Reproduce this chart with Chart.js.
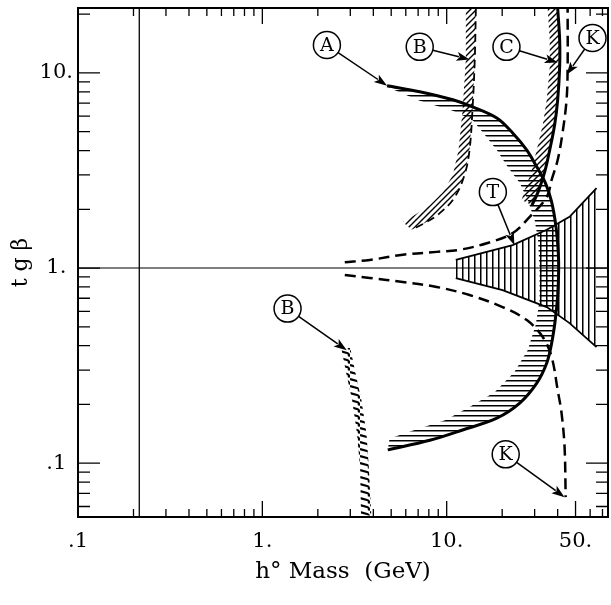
<!DOCTYPE html>
<html><head><meta charset="utf-8">
<script src="https://cdn.jsdelivr.net/npm/chart.js@4.4.1/dist/chart.umd.min.js"></script>
<style>html,body{margin:0;padding:0;background:#fff;}canvas{display:block;}</style>
</head><body>
<canvas id="c" width="611" height="605"></canvas>
<script>
// ---- axes ----
const xMin = 0.1, xMax = 75;
const yMin = 0.053, yMax = 21.5;
const xTickValues = [0.1, 1, 10, 50];
const xTickLabels = ['.1', '1.', '10.', '50.'];
const yTickValues = [0.1, 1, 10];
const yTickLabels = ['.1', '1.', '10.'];
const xMinorTicks = [0.2,0.3,0.4,0.5,0.6,0.7,0.8,0.9,2,3,4,5,6,7,8,9,20,30,40,60,70];
const yMinorTicks = [0.06,0.07,0.08,0.09,0.2,0.3,0.4,0.5,0.6,0.7,0.8,0.9,2,3,4,5,6,7,8,9,20];
const xTitle = 'h° Mass  (GeV)';
const yTitle = 't g β';

// ---- reference lines ----
const refTanBeta = 1;
const refMass = 0.215;

// ---- curve A (solid, hatched inside) ----
const curveA = [[4.75,8.6],[7.14,8.0],[10.8,7.28],[13.8,6.70],[18.7,5.87],[22.8,4.92],[27.2,4.02],[30.8,3.30],[34.3,2.73],[37.0,2.2],[39.2,1.62],[40.3,1.2],[40.5,0.98],[40.0,0.72],[38.8,0.54],[37.1,0.412],[34.9,0.326],[30.8,0.257],[24.9,0.203],[18.7,0.170],[12.2,0.148],[8.1,0.131],[4.79,0.117]];
const hatchEdgeA = [[4.9,8.37],[7.14,7.2],[10.8,6.4],[13.8,5.74],[15.8,4.92],[18.7,4.02],[21.4,3.30],[24.9,2.73],[27.5,2.23],[30.0,1.76],[31.3,1.39],[31.9,1.0],[31.9,0.686],[30.4,0.51],[27.5,0.379],[23.3,0.293],[18.2,0.231],[13.3,0.194],[9.8,0.166],[6.7,0.148],[4.9,0.134]];

// ---- curve B, upper (hatched band + dashed edge) ----
const curveBUpper = [[14.4,21.5],[14.2,11.7],[13.8,6.46],[13.3,4.02],[12.5,3.0],[11.0,2.29],[9.17,1.91],[7.6,1.70],[6.45,1.57]];
const hatchEdgeBUpper = [[12.7,21.5],[12.7,11.7],[12.2,6.46],[11.6,4.02],[10.8,3.0],[9.55,2.45],[8.09,2.10],[6.70,1.87],[5.78,1.72]];

// ---- curve B, lower (hatched band) ----
const bandBLowerLeft = [[2.68,0.389],[2.85,0.290],[3.07,0.210],[3.26,0.143],[3.39,0.0953],[3.43,0.054]];
const bandBLowerRight = [[3.0,0.389],[3.2,0.290],[3.45,0.210],[3.67,0.143],[3.78,0.0953],[3.9,0.054]];

// ---- curve C (solid, hatched on left) ----
const curveC = [[40.0,21.5],[41.0,14.8],[41.0,10.7],[40.0,7.28],[38.5,5.41],[36.2,4.02],[34.0,3.10],[31.3,2.45],[29.0,2.10]];
const hatchEdgeC = [[35.3,21.5],[36.2,14.8],[36.2,10.7],[34.9,7.28],[33.2,5.41],[30.8,4.02],[28.7,3.10],[26.5,2.51],[25.5,2.23]];

// ---- curve K (dashed, two branches) ----
const curveKUpper = [[2.80,1.07],[3.83,1.10],[5.78,1.17],[8.83,1.21],[11.7,1.24],[16.5,1.34],[22.8,1.51],[28.2,1.83],[34.9,2.31],[37.1,2.83],[40.0,3.58],[42.5,4.92],[44.7,7.28],[45.3,10.7],[45.3,21.5]];
const curveKLower = [[2.80,0.921],[3.83,0.889],[5.78,0.848],[8.83,0.800],[13.3,0.727],[20.1,0.631],[27.2,0.541],[33.2,0.443],[37.1,0.350],[40.0,0.237],[42.0,0.180],[43.6,0.121],[44.2,0.067]];

// ---- region T (vertically hatched wedge) ----
const regionTUpper = [[11.2,1.10],[22.8,1.31],[34.9,1.57],[46.4,1.83],[65.0,2.57]];
const regionTLower = [[11.2,0.889],[20.1,0.771],[34.9,0.631],[46.4,0.522],[65.0,0.393]];

// ---- circled labels with arrows ----
const labelLetters = ['A','B','C','K','T','B','K'];
const labelX = [2.24, 7.14, 21.1, 61.8, 17.8, 1.37, 20.9];
const labelY = [13.9, 13.6, 13.6, 15.1, 2.45, 0.62, 0.111];
const arrowTipX = [4.75, 13.3, 40.0, 44.7, 23.3, 2.87, 43.6];
const arrowTipY = [8.6, 11.7, 11.3, 9.77, 1.31, 0.379, 0.067];

// ---------------------------------------------------------------
const FONT = '"DejaVu Serif", "Liberation Serif", serif';
const toPts = arr => arr.map(([x, y]) => ({x, y}));

function bandPolygon(edge1, edge2) {
  const poly = edge1.concat(edge2.slice().reverse());
  let iMin = 0, iMax = 0;
  poly.forEach((p, i) => {
    if (p[0] < poly[iMin][0]) iMin = i;
    if (p[0] > poly[iMax][0]) iMax = i;
  });
  const rot = poly.slice(iMin).concat(poly.slice(0, iMin));
  return toPts(rot.concat([rot[0], poly[iMax]]));
}

const mainCtx = document.getElementById('c').getContext('2d');
function makePattern(w, h, draw) {
  const c = document.createElement('canvas');
  c.width = w; c.height = h;
  const g = c.getContext('2d');
  g.fillStyle = '#000'; g.strokeStyle = '#000';
  draw(g, w, h);
  return mainCtx.createPattern(c, 'repeat');
}
const patH = makePattern(8, 5, g => g.fillRect(0, 0, 8, 1.5));
const patV = makePattern(6, 8, g => g.fillRect(0, 0, 1.5, 8));
const patD = makePattern(6, 6, g => {
  g.lineWidth = 1.4; g.beginPath();
  g.moveTo(-1, 7); g.lineTo(7, -1);
  g.moveTo(-1, 1); g.lineTo(1, -1);
  g.moveTo(5, 7); g.lineTo(7, 5);
  g.stroke();
});
const patHook = makePattern(10, 7, g => {
  g.lineWidth = 2.2; g.beginPath();
  g.moveTo(0, 1); g.lineTo(7, 3); g.quadraticCurveTo(10, 4, 8.5, 6.5);
  g.stroke();
});

const hatchDs = (data, pattern) => ({data, fill: 'shape', backgroundColor: pattern, borderWidth: 0, pointRadius: 0, tension: 0, order: 10});
const lineDs = (arr, width, dash, tension) => ({data: toPts(arr), borderColor: '#000', borderWidth: width, borderDash: dash || [], fill: false, pointRadius: 0, tension: tension === undefined ? 0.35 : tension, order: 1, borderCapStyle: 'butt'});

const datasets = [
  hatchDs(bandPolygon(curveA, hatchEdgeA), patH),
  hatchDs(bandPolygon(curveBUpper, hatchEdgeBUpper), patD),
  hatchDs(bandPolygon(curveC, hatchEdgeC), patD),
  hatchDs(bandPolygon(regionTUpper, regionTLower), patV),
  hatchDs(bandPolygon(bandBLowerLeft, bandBLowerRight), patHook),
  lineDs([[xMin, refTanBeta], [xMax, refTanBeta]], 1.1, [], 0),
  lineDs([[refMass, yMin], [refMass, yMax]], 1.3, [], 0),
  lineDs(regionTUpper, 1.8, [], 0),
  lineDs(regionTLower, 1.8, [], 0),
  lineDs(curveA, 3),
  lineDs(curveC, 3),
  lineDs(curveBUpper, 1.8, [8, 5]),
  lineDs(curveKUpper, 2.5, [11, 6]),
  lineDs(curveKLower, 2.5, [11, 6]),
];

const framePlugin = {
  id: 'frameTicks',
  afterDraw(chart) {
    const {ctx, chartArea: a, scales: {x, y}} = chart;
    ctx.save();
    ctx.strokeStyle = '#000';
    ctx.lineWidth = 1.3;
    ctx.beginPath();
    const xt = (v, len) => { const p = x.getPixelForValue(v); ctx.moveTo(p, a.bottom); ctx.lineTo(p, a.bottom - len); ctx.moveTo(p, a.top); ctx.lineTo(p, a.top + len); };
    const yt = (v, len) => { const p = y.getPixelForValue(v); ctx.moveTo(a.left, p); ctx.lineTo(a.left + len, p); ctx.moveTo(a.right, p); ctx.lineTo(a.right - len, p); };
    xMinorTicks.forEach(v => xt(v, 8));
    xTickValues.forEach(v => xt(v, 16));
    yMinorTicks.forEach(v => yt(v, 12));
    yTickValues.forEach(v => yt(v, 22));
    ctx.stroke();
    ctx.lineWidth = 2;
    ctx.strokeRect(a.left, a.top, a.right - a.left, a.bottom - a.top);
    ctx.restore();
  }
};

const labelPlugin = {
  id: 'circledLabels',
  afterDatasetsDraw(chart) {
    const {ctx, scales: {x, y}} = chart;
    ctx.save();
    labelLetters.forEach((t, i) => {
      const cx = x.getPixelForValue(labelX[i]), cy = y.getPixelForValue(labelY[i]);
      const tx = x.getPixelForValue(arrowTipX[i]), ty = y.getPixelForValue(arrowTipY[i]);
      const r = 13.5;
      const ang = Math.atan2(ty - cy, tx - cx);
      const ca = Math.cos(ang), sa = Math.sin(ang);
      const sx = cx + r * ca, sy = cy + r * sa;
      const hl = 13, hw = 4.5;
      const bx = tx - hl * ca, by = ty - hl * sa;
      ctx.strokeStyle = '#000'; ctx.fillStyle = '#000'; ctx.lineWidth = 1.5;
      ctx.beginPath(); ctx.moveTo(sx, sy); ctx.lineTo(bx + 2 * ca, by + 2 * sa); ctx.stroke();
      ctx.beginPath(); ctx.moveTo(tx, ty);
      ctx.lineTo(bx + hw * sa, by - hw * ca);
      ctx.lineTo(bx + 3 * ca, by + 3 * sa);
      ctx.lineTo(bx - hw * sa, by + hw * ca);
      ctx.closePath(); ctx.fill();
      ctx.beginPath(); ctx.arc(cx, cy, r, 0, Math.PI * 2);
      ctx.fillStyle = '#fff'; ctx.fill(); ctx.lineWidth = 1.5; ctx.stroke();
      ctx.fillStyle = '#000';
      ctx.font = '19px ' + FONT;
      ctx.textAlign = 'center'; ctx.textBaseline = 'middle';
      ctx.fillText(t, cx, cy + 1);
    });
    ctx.restore();
  }
};

new Chart(mainCtx, {
  type: 'line',
  data: {datasets},
  options: {
    responsive: false,
    animation: false,
    events: [],
    layout: {padding: {top: 8, right: 3, left: 0, bottom: 0}},
    plugins: {legend: {display: false}, tooltip: {enabled: false}},
    scales: {
      x: {
        type: 'logarithmic', min: xMin, max: xMax,
        afterBuildTicks: s => { s.ticks = xTickValues.map(v => ({value: v})); },
        afterFit: s => { s.height = 88; },
        grid: {display: false, drawTicks: false},
        border: {display: false},
        ticks: {
          autoSkip: false, maxRotation: 0, padding: 12, color: '#000',
          font: {family: FONT, size: 21},
          callback: v => { const i = xTickValues.findIndex(t => Math.abs(t - v) < 1e-9); return i >= 0 ? xTickLabels[i] : ''; }
        },
        title: {display: true, text: xTitle, color: '#000', font: {family: FONT, size: 23}, padding: {top: 0, bottom: 19}}
      },
      y: {
        type: 'logarithmic', min: yMin, max: yMax,
        afterBuildTicks: s => { s.ticks = yTickValues.map(v => ({value: v})); },
        afterFit: s => { s.width = 78; s.paddingTop = 0; s.paddingBottom = 0; },
        grid: {display: false, drawTicks: false},
        border: {display: false},
        ticks: {
          autoSkip: false, padding: 5, crossAlign: 'center', color: '#000',
          font: {family: FONT, size: 21},
          callback: v => { const i = yTickValues.findIndex(t => Math.abs(t - v) < 1e-9); return i >= 0 ? yTickLabels[i] : ''; }
        },
        title: {display: true, text: yTitle, color: '#000', font: {family: FONT, size: 22}, padding: {top: 8, bottom: 0}}
      }
    }
  },
  plugins: [labelPlugin, framePlugin]
});
</script>
</body></html>
